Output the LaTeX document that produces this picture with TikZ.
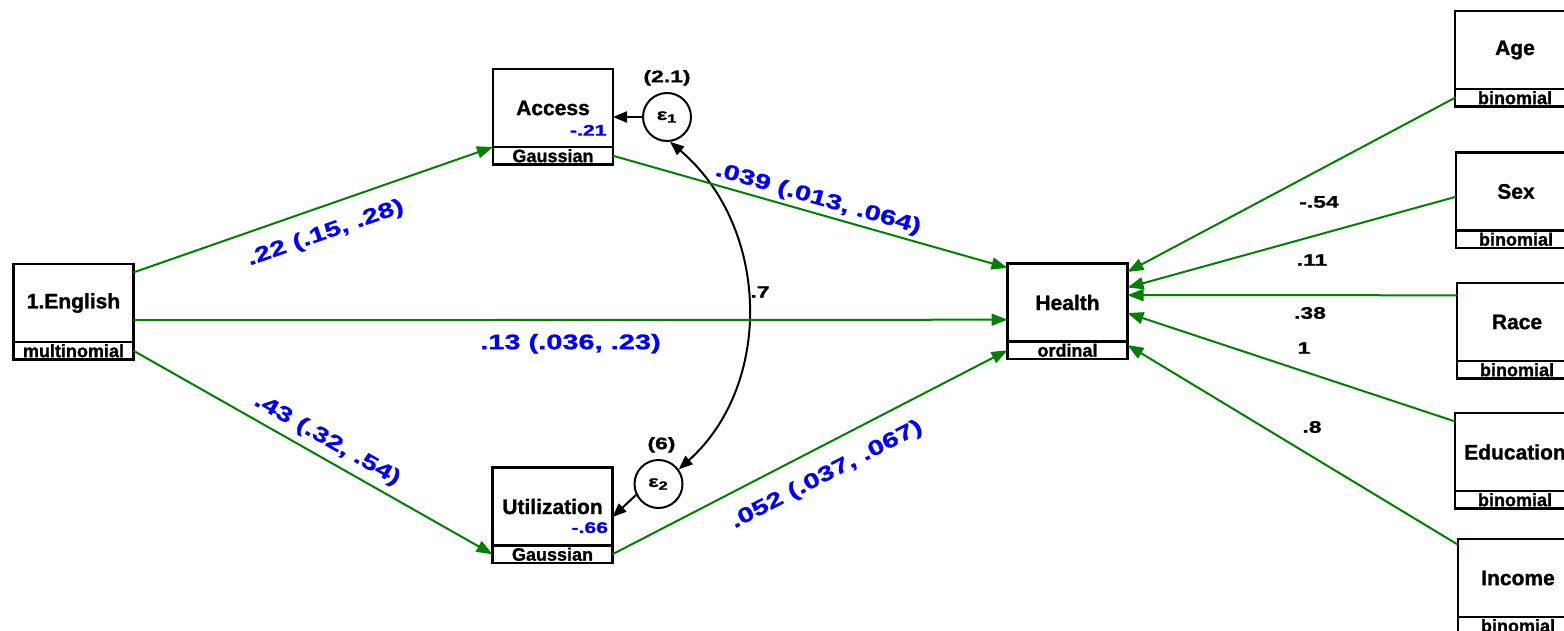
\documentclass[tikz,border=0pt]{standalone}
\usepackage{fontspec}
\setmainfont{Liberation Sans}[BoldFont={Liberation Sans Bold}, BoldFeatures={FakeBold=1.2}]
\newfontfamily\coeffont{Liberation Sans Bold}[FakeStretch=1.38, FakeBold=1.2]
\usepackage{xcolor}
\usetikzlibrary{
    arrows.meta,
    positioning
}
\definecolor{pathgreen}{RGB}{0,128,0}
\definecolor{coefblue}{RGB}{0,0,255}

\begin{document}
\begin{tikzpicture}[x=0.5pt, y=-0.5pt,
        var/.style={draw, line width=1.4pt, outer sep=0pt, inner sep=0pt,
            minimum width=60pt, minimum height=39pt,
            font=\bfseries\fontsize{10.5}{12}\selectfont},
        family/.style={draw, line width=1.2pt, outer sep=0pt, inner sep=0pt,
            minimum width=60pt, minimum height=8.75pt,
            font=\bfseries\fontsize{9}{10}\selectfont},
        err/.style={draw, circle, line width=1pt, inner sep=0pt, minimum size=24pt,
            font=\coeffont\fontsize{8}{9}\selectfont},
        effect/.style={draw=pathgreen, line width=1pt, -{Triangle[length=8pt, width=6pt]}},
        errarrow/.style={draw, line width=1pt, -{Triangle[length=7pt, width=5.5pt]}},
        est/.style={sloped, inner sep=0pt, text=coefblue,
            font=\coeffont\fontsize{10.5}{12}\selectfont},
        coef/.style={inner sep=0pt, font=\coeffont\fontsize{8.3}{9}\selectfont},
        mean/.style={inner sep=0pt, text=coefblue, font=\coeffont\fontsize{7.7}{9}\selectfont}
    ]
    \path[use as bounding box] (0, 0) rectangle (1564, 631);
    \clip (0, 0) rectangle (1564, 631);

    \node[var] (english) at (73.5, 303) {1.English};
    \node[family, below=0pt of english] (english-d) {multinomial};

    \node[var] (access) at (553, 108) {Access};
    \node[family, below=0pt of access] (access-d) {Gaussian};
    \node[mean, above left=5.5pt and 3pt of access.south east] (access-m) {-.21};

    \node[var] (util) at (552.5, 506.5) {Utilization};
    \node[family, below=0pt of util] (util-d) {Gaussian};
    \node[mean, above left=6pt and 2pt of util.south east] (util-m) {-.66};

    \node[var] (health) at (1067.5, 302.5) {Health};
    \node[family, below=0pt of health] (health-d) {ordinal};

    \node[var] (age) at (1515, 50) {Age};
    \node[family, below=0pt of age] (age-d) {binomial};
    \node[var] (sex) at (1516, 191.5) {Sex};
    \node[family, below=0pt of sex] (sex-d) {binomial};
    \node[var] (race) at (1517, 322) {Race};
    \node[family, below=0pt of race] (race-d) {binomial};
    \node[var] (edu) at (1515, 452) {Education};
    \node[family, below=0pt of edu] (edu-d) {binomial};
    \node[var] (income) at (1518, 578) {Income};
    \node[family, below=0pt of income] (income-d) {binomial};

    \node[err] (e1) at (667, 117) {ε\textsubscript{1}};
    \node[coef, above=3pt of e1] (e1-var) {(2.1)};
    \node[err] (e2) at (658.5, 484) {ε\textsubscript{2}};
    \node[coef, above=3pt of e2, xshift=1.5pt] (e2-var) {(6)};

    \draw[errarrow] (e1) -- (e1 -| access.east);
    \draw[errarrow] (e2.206) -- (util.-10);
    \draw[errarrow, {Triangle[length=7pt, width=5.5pt]}-{Triangle[length=7pt, width=5.5pt]}]
        (e1.-83) .. controls +(100, 85) and +(95, -85) .. (e2.36);
    \node[coef] (cov) at (760, 292) {.7};

    \draw[effect] (english.27.5) -- node[est, pos=0.51, below=7.8pt] (b-access) {.22 (.15, .28)} (access.south west);
    \draw[effect] (english.-16) -- node[est, pos=0.5, below=6.5pt] (b-health) {.13 (.036, .23)} (health.196);
    \draw[effect] (english-d.east) -- node[est, pos=0.515, above=3.5pt] (b-util) {.43 (.32, .54)} (util-d.west);
    \draw[effect] (access-d.east) -- node[est, pos=0.51, above=1.8pt] (b-access-h) {.039 (.013, .064)} (health.150);
    \draw[effect] (util-d.east) -- node[est, pos=0.51, below=8.5pt] (b-util-h) {.052 (.037, .067)} (health-d.west);

    \draw[effect] (age-d.west) -- (health.27);
    \draw[effect] (sex.185) -- (health.14);
    \draw[effect] (race.156) -- (health.7);
    \draw[effect] (edu.153) -- (health.-10);
    \draw[effect] (income.151) -- (health-d.5);

    \node[coef] (c-age) at (1319, 202) {-.54};
    \node[coef] (c-sex) at (1312, 260) {.11};
    \node[coef] (c-race) at (1310, 313) {.38};
    \node[coef] (c-edu) at (1304, 348) {1};
    \node[coef] (c-income) at (1312, 427) {.8};
\end{tikzpicture}
\end{document}
